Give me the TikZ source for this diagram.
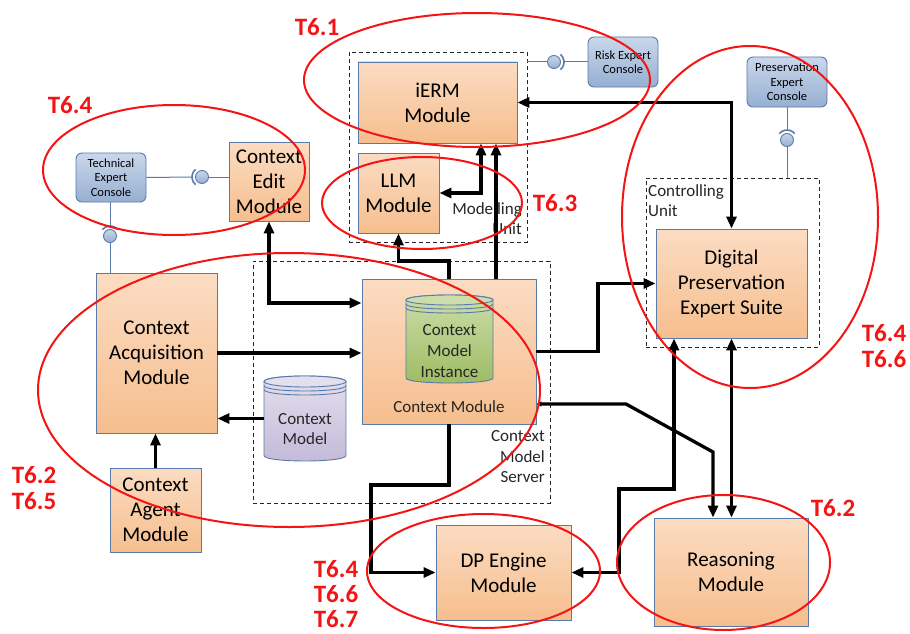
\documentclass[tikz,border=0pt]{standalone}
\usepackage{fontspec}
\setmainfont{Carlito}
\usetikzlibrary{arrows.meta}
\definecolor{modtop}{HTML}{FBDCC2}
\definecolor{modbot}{HTML}{F6BE8E}
\definecolor{modedge}{HTML}{5A7BAA}
\definecolor{contop}{HTML}{C9D7EA}
\definecolor{conbot}{HTML}{97AFD2}
\definecolor{conedge}{HTML}{5A7BAA}
\definecolor{greentop}{HTML}{CDDDAA}
\definecolor{greenbot}{HTML}{9DBC62}
\definecolor{purptop}{HTML}{E4DFEE}
\definecolor{purpbot}{HTML}{C3BAD8}
\definecolor{annot}{HTML}{F51414}
\begin{document}
\begin{tikzpicture}[x=1pt,y=-1pt,
  sz/.style 2 args={minimum width=#1pt, minimum height=#2pt},
  module/.style={draw=modedge, line width=0.9pt, top color=modtop, bottom color=modbot,
    align=center, inner sep=0pt, font=\fontsize{21}{25}\selectfont},
  console/.style={draw=conedge, line width=0.9pt, rounded corners=6pt, top color=contop,
    bottom color=conbot, align=center, inner sep=0pt, font=\fontsize{12.5}{14.5}\selectfont},
  container/.style={draw=black!85, line width=0.8pt, dash pattern=on 4pt off 3pt, inner sep=0pt},
  caption/.style={inner sep=0pt, font=\fontsize{17}{20.5}\selectfont, text=black!85},
  flow/.style={line width=3.3pt, -{Triangle[length=12pt,width=10pt]}},
  bothflow/.style={line width=3.3pt, {Triangle[length=12pt,width=10pt]}-{Triangle[length=12pt,width=10pt]}},
  ifline/.style={draw=conedge, line width=1pt},
  ball/.style={circle, draw=conedge, line width=0.9pt, top color=contop, bottom color=conbot,
    minimum size=13pt, inner sep=0pt},
  socket/.style={draw=conedge, line width=1.6pt},
  task/.style={draw=annot, line width=2pt},
  tasklabel/.style={text=annot, font=\bfseries\fontsize{25}{26}\selectfont, align=center, inner sep=0pt},
  drum/.style={draw=modedge, line width=0.9pt},
]
\fill[white] (0,0) rectangle (910,634);
\useasboundingbox (0,0) rectangle (910,634);

% dashed grouping boxes
\node[container, sz={178}{190}] (modunit) at (438,147) {};
\node[container, sz={173}{169}] (ctrlunit) at (732.5,262.5) {};
\node[container, sz={297}{242}] (cmserver) at (401.5,382) {};

% modules
\node[module, sz={159}{81}] (ierm) at (437.5,102.5) {iERM\\Module};
\node[module, sz={81}{80}] (llm) at (398.5,193) {LLM\\Module};
\node[module, sz={80}{79}] (cedit) at (269,181.5) {Context\\Edit\\Module};
\node[module, sz={121}{160}] (cacq) at (156.5,353) {Context\\Acquisition\\Module};
\node[module, sz={91}{84}] (cagent) at (155.5,510) {Context\\Agent\\Module};
\node[module, sz={174}{145}] (cmod) at (449,351.5) {};
\node[caption, font=\fontsize{17}{20}\selectfont] (cmodname) at (449,407) {Context Module};
\node[module, sz={151}{109}] (dpes) at (731.5,283.5) {Digital\\Preservation\\Expert Suite};
\node[module, sz={135}{95}] (dpeng) at (503.5,572.5) {DP Engine\\Module};
\node[module, sz={154}{108}] (reason) at (731,572) {Reasoning\\Module};

% consoles
\node[console, sz={70}{50}] (risk) at (623,62) {Risk Expert\\Console};
\node[console, sz={70}{49}] (tech) at (111,177.5) {Technical\\Expert\\Console};
\node[console, sz={80}{50}] (pres) at (787,82) {Preservation\\Expert\\Console};

% green store: context model instance
\shade[top color=greentop, bottom color=greenbot, drum]
  (406,300) -- (406,378) .. controls (406,384.67) and (493,384.67) .. (493,378)
  -- (493,300) .. controls (493,293.33) and (406,293.33) .. (406,300) -- cycle;
\draw[drum, fill=greentop] (449.5,300) ellipse [x radius=43.5, y radius=5];
\draw[drum] (406,304) .. controls (406,310.67) and (493,310.67) .. (493,304);
\draw[drum] (406,308) .. controls (406,314.67) and (493,314.67) .. (493,308);
\node[caption, align=center, font=\fontsize{17}{21}\selectfont] (cmi) at (449.5,351) {Context\\Model\\Instance};

% purple store: context model
\shade[top color=purptop, bottom color=purpbot, drum]
  (264,381.5) -- (264,455.5) .. controls (264,462.83) and (346,462.83) .. (346,455.5)
  -- (346,381.5) .. controls (346,374.17) and (264,374.17) .. (264,381.5) -- cycle;
\draw[drum, fill=purptop] (305,381.5) ellipse [x radius=41, y radius=5.5];
\draw[drum] (264,385.5) .. controls (264,392.83) and (346,392.83) .. (346,385.5);
\draw[drum] (264,389.5) .. controls (264,396.83) and (346,396.83) .. (346,389.5);
\node[inner sep=0pt, sz={82}{85}] (cmbody) at (305,418.5) {};
\node[caption, align=center, font=\fontsize{17}{20}\selectfont] (cm) at (305,429) {Context\\Model};

% group captions
\node[caption, align=right, anchor=south east] (modcap) at (522,235) {Modelling\\Unit};
\node[caption, align=right, anchor=south east] (servcap) at (545,483) {Context\\Model\\Server};
\node[caption, align=left, anchor=north west] (ctrlcap) at (648,184) {Controlling\\Unit};

% data flows
\draw[bothflow] (cedit.south) |- (cmod.west |- 0,303);
\draw[flow] (cacq.east) -- (cmod.west |- cacq.east);
\draw[flow] (cmbody.west) -- (cacq.east |- cmbody.west);
\draw[flow] (cagent.north) -- (cagent.north |- cacq.south);
\draw[flow] (cmod.north) -- (449,261) -| (llm.south);
\draw[flow] (cmod.north -| 496,0) -- (ierm.south -| 496,0);
\draw[bothflow] (ierm.south -| 481,0) |- (llm.east);
\draw[bothflow] (ierm.east) -| (dpes.north);
\draw[flow] (cmod.east) -- (598,351.5) |- (dpes.west);
\draw[line width=3.3pt, {Triangle[length=5pt,width=5pt]}-{Triangle[length=12pt,width=10pt]}]
  (cmod.east |- 0,404) -- (626,404) -- (713,452) -- (reason.north -| 713,0);
\draw[bothflow] (dpes.south) -- (reason.north -| dpes.south);
\draw[bothflow] (dpes.south -| 674,0) -- (674,489) -- (619,489) |- (dpeng.east);
\draw[flow] (cmod.south) -- (449,485) -- (371,485) |- (dpeng.west);

% provided / required interfaces
\node[ball] (riskball) at (554,62) {};
\draw[ifline] (modunit.east |- riskball) -- (riskball.west);
\draw[socket] (riskball.center) ++(-50:10pt) arc[start angle=-50, end angle=50, radius=10pt];
\draw[ifline] ([xshift=10pt]riskball.center) -- (risk.west |- riskball);

\node[ball] (techball) at (202,177) {};
\draw[ifline] (tech.east) -- ([xshift=-10pt]techball.center);
\draw[socket] (techball.center) ++(130:10pt) arc[start angle=130, end angle=230, radius=10pt];
\draw[ifline] (techball.east) -- (cedit.west |- techball);

\node[ball] (techball2) at (110,236) {};
\draw[ifline] (tech.south -| techball2) -- ([yshift=10pt]techball2.center);
\draw[socket] (techball2.center) ++(40:10pt) arc[start angle=40, end angle=140, radius=10pt];
\draw[ifline] (techball2.south) -- (techball2 |- cacq.north);

\node[ball] (presball) at (787,140) {};
\draw[ifline] (pres.south) -- ([yshift=10pt]presball.center);
\draw[socket] (presball.center) ++(40:10pt) arc[start angle=40, end angle=140, radius=10pt];
\draw[ifline] (presball.south) -- (presball |- ctrlunit.north);

% task scopes
\draw[task] (477,80) ellipse [x radius=173, y radius=67];
\draw[task] (422,203) ellipse [x radius=100, y radius=46];
\draw[task] (174,170) ellipse [x radius=131, y radius=65];
\draw[task] (750,217) ellipse [x radius=128, y radius=171];
\draw[task] (289,390) ellipse [x radius=251, y radius=137];
\draw[task] (483.5,571) ellipse [x radius=116.5, y radius=57];
\draw[task] (723.5,562.5) ellipse [x radius=106.5, y radius=67.5];

\node[tasklabel] (t61) at (317,27) {T6.1};
\node[tasklabel] (t64a) at (70,105) {T6.4};
\node[tasklabel] (t63) at (555,203) {T6.3};
\node[tasklabel] (t6466) at (884,346) {T6.4\\T6.6};
\node[tasklabel] (t6265) at (34,488) {T6.2\\T6.5};
\node[tasklabel, font=\bfseries\fontsize{25}{25}\selectfont] (t646667) at (336,594) {T6.4\\T6.6\\T6.7};
\node[tasklabel] (t62) at (833,508) {T6.2};
\end{tikzpicture}
\end{document}
